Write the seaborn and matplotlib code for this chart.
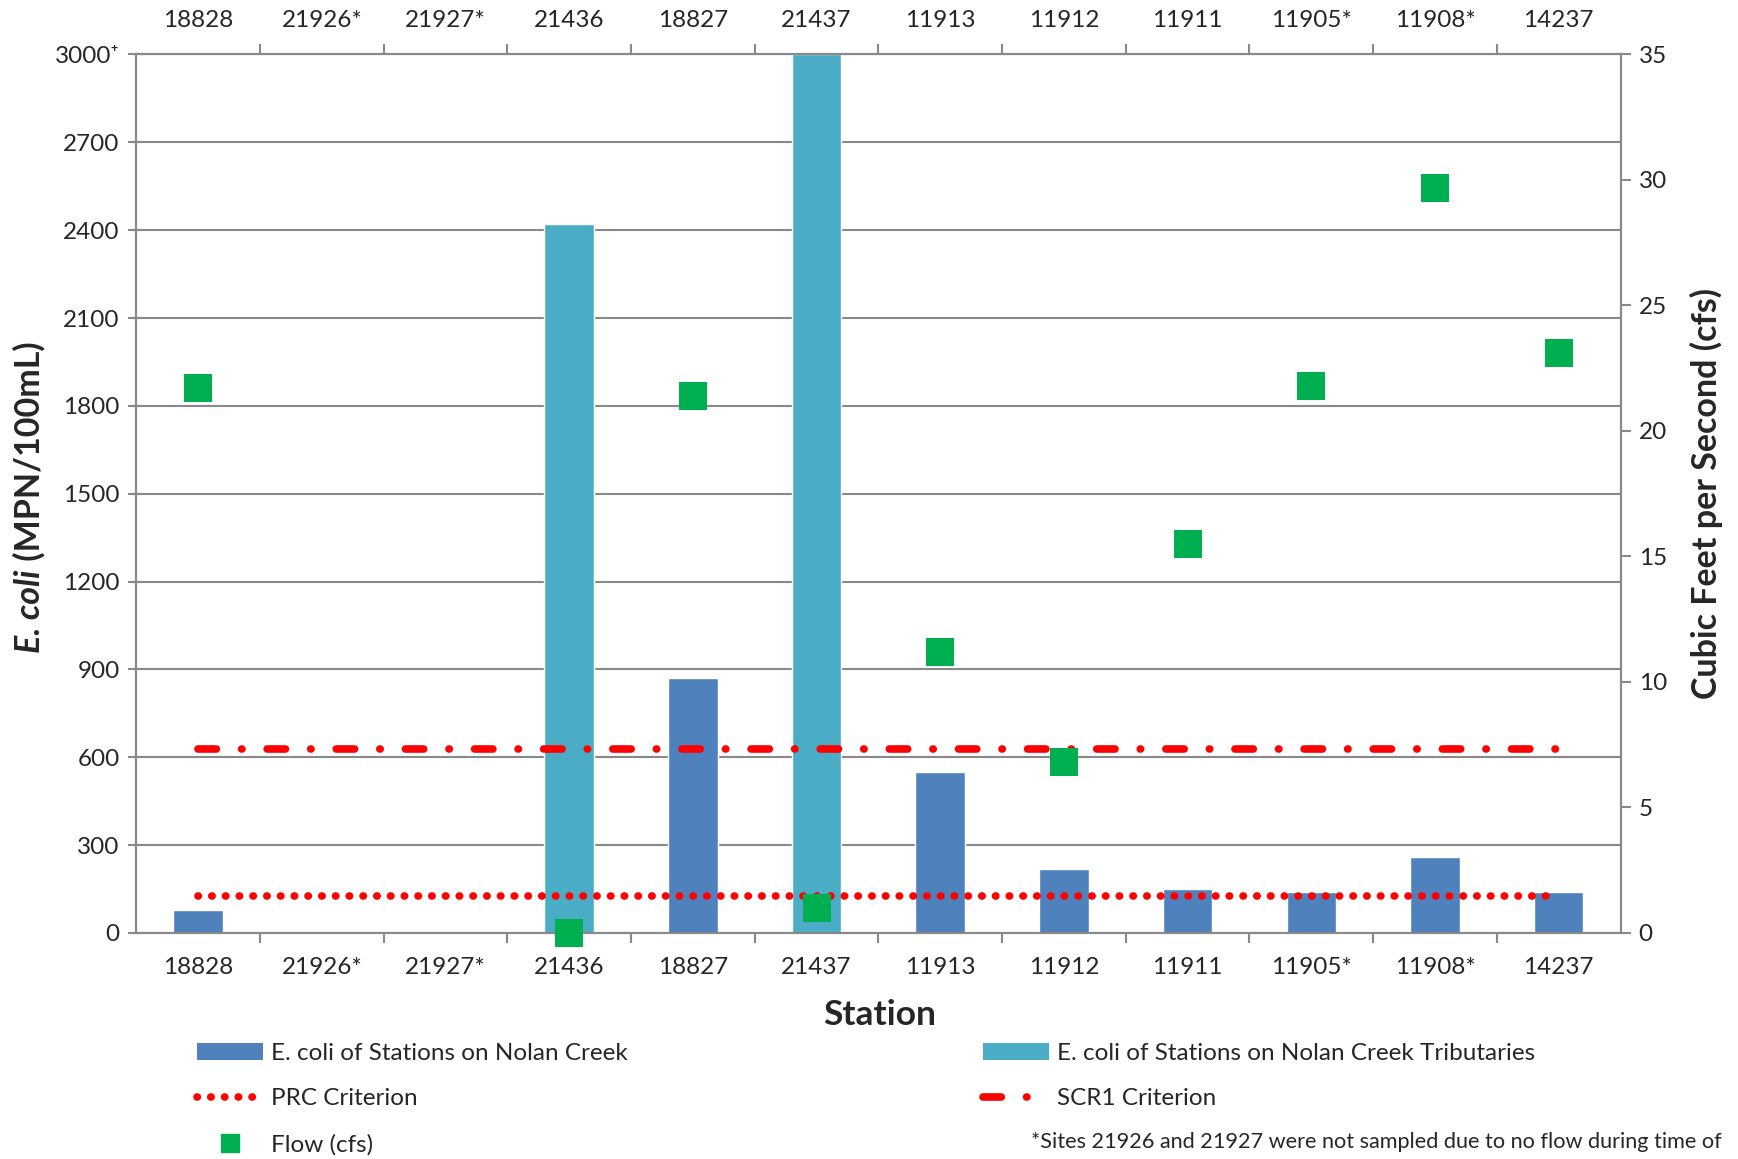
"""
E. coli and flow by station along Nolan Creek, with contact recreation criteria.
"""

import numpy as np
import pandas as pd
import matplotlib
matplotlib.use("Agg")
import matplotlib.pyplot as plt
import seaborn as sns
from matplotlib.lines import Line2D
from matplotlib.patches import Patch

# data
stations = ["18828", "21926*", "21927*", "21436", "18827", "21437",
            "11913", "11912", "11911", "11905*", "11908*", "14237"]
ecoli = [80, np.nan, np.nan, 2420, 870, 3000, 550, 220, 150, 140, 260, 140]
groups = ["Creek", "Creek", "Creek", "Tributary", "Creek", "Tributary",
          "Creek", "Creek", "Creek", "Creek", "Creek", "Creek"]
flow = [21.7, np.nan, np.nan, 0.0, 21.4, 1.0, 11.2, 6.8, 15.5, 21.8, 29.7, 23.1]
prc_criterion = 126
scr1_criterion = 630
left_ticks = [0, 300, 600, 900, 1200, 1500, 1800, 2100, 2400, 2700, 3000]
left_labels = ["0", "300", "600", "900", "1200", "1500", "1800", "2100",
               "2400", "2700", "3000\u207a"]
right_ticks = [0, 5, 10, 15, 20, 25, 30, 35]

CREEK = "#4F81BD"
TRIB = "#4BACC6"
FLOW = "#00B050"
RED = "#FF0000"
GRAY = "#898989"
FS = 17.5

sns.set_theme(style="white")
plt.rcParams["font.family"] = ["Lato", "DejaVu Sans"]
plt.rcParams["font.size"] = FS

df = pd.DataFrame({"Station": stations, "Ecoli": ecoli, "Group": groups})

fig = plt.figure(figsize=(17.38, 11.59), dpi=100)
ax = fig.add_axes([0.0784, 0.195, 0.854, 0.758])

sns.barplot(
    data=df, x="Station", y="Ecoli", hue="Group", order=stations,
    palette={"Creek": CREEK, "Tributary": TRIB}, dodge=False,
    width=0.4, saturation=1, legend=False, ax=ax, zorder=2,
)

x_pos = np.arange(len(stations))
dot_style = dict(color=RED, lw=5.5, dash_capstyle="round", zorder=4)
ax.plot([x_pos[0], x_pos[-1]], [prc_criterion] * 2, dashes=(0.05, 1.75), **dot_style)
ax.plot([x_pos[0], x_pos[-1]], [scr1_criterion] * 2, dashes=(2.4, 3.3, 0.05, 3.3), **dot_style)

ax.set_xlim(-0.5, len(stations) - 0.5)
ax.set_ylim(0, 3000)
ax.set_yticks(left_ticks)
ax.set_yticklabels(left_labels)
ax.yaxis.grid(True, color=GRAY, lw=1.5, zorder=0)
ax.set_axisbelow(True)
ax.set_xlabel("")
ax.set_ylabel("")

# station labels on both top and bottom; tick marks fall between stations
ax.set_xticks(x_pos)
ax.set_xticklabels(stations)
ax.set_xticks(np.arange(0.5, len(stations) - 0.5, 1.0), minor=True)
ax.tick_params(axis="x", which="major", length=0, pad=17, top=True, labeltop=True,
               bottom=True, labelbottom=True, labelsize=FS)
ax.tick_params(axis="x", which="minor", length=7, width=1.5, color=GRAY,
               direction="out", top=True, bottom=True)
ax.tick_params(axis="y", which="major", length=12, width=1.5, color=GRAY,
               direction="inout", pad=6, labelsize=FS, left=True)

for side in ["left", "right", "top", "bottom"]:
    ax.spines[side].set_color(GRAY)
    ax.spines[side].set_linewidth(1.5)

ax2 = ax.twinx()
sns.scatterplot(x=x_pos, y=flow, marker="s", s=390, color=FLOW, linewidth=0,
                ax=ax2, zorder=5, clip_on=False)
ax2.set_ylim(0, 35)
ax2.set_yticks(right_ticks)
ax2.tick_params(axis="y", length=7, width=1.5, color=GRAY, direction="out",
                pad=6, labelsize=FS, right=True)
for side in ["left", "right", "top", "bottom"]:
    ax2.spines[side].set_color(GRAY)
    ax2.spines[side].set_linewidth(1.5)

# axis titles
fig.text(0.506, 0.124, "Station", ha="center", va="center",
         fontsize=25.5, fontweight="bold")
fig.text(0.982, 0.574, "Cubic Feet per Second (cfs)", ha="center", va="center",
         rotation=90, fontsize=24.5, fontweight="bold")

lab_x, lab_y0 = 0.017, 0.437
t1 = fig.text(lab_x, lab_y0, "E. coli", rotation=90, ha="center", va="bottom",
              fontsize=24.5, fontweight="bold", style="italic")
fig.canvas.draw()
top_px = t1.get_window_extent().y1
fig.text(lab_x, top_px / fig.bbox.height, " (MPN/100mL)", rotation=90,
         ha="center", va="bottom", fontsize=24.5, fontweight="bold")

# legends under the plot
left_handles = [
    Patch(facecolor=CREEK, edgecolor="none"),
    Line2D([0], [0], color=RED, lw=5.5, dashes=(0.05, 1.75), dash_capstyle="round"),
    Line2D([0], [0], color=FLOW, marker="s", markersize=13, linestyle="none"),
]
left_names = ["E. coli of Stations on Nolan Creek", "PRC Criterion", "Flow (cfs)"]
right_handles = [
    Patch(facecolor=TRIB, edgecolor="none"),
    Line2D([0], [0], color=RED, lw=5.5, dashes=(2.4, 3.3, 0.05, 3.3), dash_capstyle="round"),
]
right_names = ["E. coli of Stations on Nolan Creek Tributaries", "SCR1 Criterion"]

leg_opts = dict(loc="upper left", frameon=False, fontsize=FS, borderpad=0,
                borderaxespad=0, handlelength=2.7, handletextpad=0.35,
                labelspacing=1.0)
fig.legend(left_handles, left_names, bbox_to_anchor=(0.1135, 0.100), **leg_opts)
fig.legend(right_handles, right_names, bbox_to_anchor=(0.5657, 0.100), **leg_opts)

fig.text(0.593, 0.0143,
         "*Sites 21926 and 21927 were not sampled due to no flow during time of",
         ha="left", va="center", fontsize=15.6)

fig.savefig("out.png", dpi=100)
